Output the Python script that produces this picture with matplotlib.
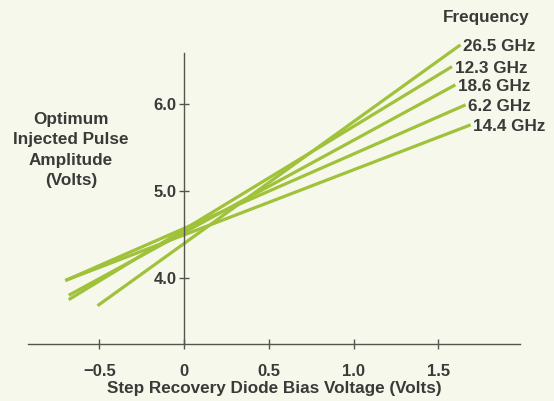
import matplotlib
matplotlib.use('Agg')
import matplotlib.pyplot as plt

# values (bias volts -> pulse amplitude volts)
freq_labels = ['26.5 GHz', '12.3 GHz', '18.6 GHz', '6.2 GHz', '14.4 GHz']
x_start = [-0.51, -0.68, -0.68, -0.70, -0.70]
y_start = [3.68, 3.75, 3.80, 3.97, 3.97]
x_end = [1.63, 1.58, 1.60, 1.66, 1.69]
y_end = [6.68, 6.43, 6.22, 5.99, 5.76]

xticks = [-0.5, 0, 0.5, 1.0, 1.5]
xtick_labels = ['\u22120.5', '0', '0.5', '1.0', '1.5']
yticks = [4.0, 5.0, 6.0]
ytick_labels = ['4.0', '5.0', '6.0']

bg = '#f6f8ec'
line_col = '#a0c23a'
txt = '#3a3a38'
axis_col = '#55554f'

plt.rcParams['font.family'] = ['Liberation Sans', 'DejaVu Sans']
plt.rcParams['font.weight'] = 'bold'

W, H = 554, 401
fig = plt.figure(figsize=(W / 100, H / 100), dpi=100, facecolor=bg)
ax = fig.add_axes([28 / W, 1 - 344 / H, (520 - 28) / W, (344 - 53) / H])
ax.set_facecolor(bg)

ax.set_xlim(-0.920, 1.981)
ax.set_ylim(3.24, 6.586)

for xs, ys, xe, ye, lab in zip(x_start, y_start, x_end, y_end, freq_labels):
    ax.plot([xs, xe], [ys, ye], color=line_col, lw=2.3, solid_capstyle='butt', clip_on=False)
    ax.annotate(lab, (xe, ye), xytext=(2, -1.5), textcoords='offset points',
                ha='left', va='center', fontsize=12.3, color=txt, annotation_clip=False)

ax.text(1.525, 6.99, 'Frequency', ha='left', va='center', fontsize=12.3, color=txt, clip_on=False)

ax.spines['top'].set_visible(False)
ax.spines['right'].set_visible(False)
ax.spines['left'].set_position(('data', 0))
for s in ['left', 'bottom']:
    ax.spines[s].set_color(axis_col)
    ax.spines[s].set_linewidth(1.0)

ax.set_xticks(xticks)
ax.set_xticklabels(xtick_labels)
ax.set_yticks(yticks)
ax.set_yticklabels(ytick_labels)
ax.tick_params(direction='inout', length=7, width=1.0, color=axis_col,
               labelcolor=txt, labelsize=12)
ax.tick_params(axis='x', pad=11)
ax.tick_params(axis='y', pad=2)

fig.text(71 / W, 1 - 150 / H, 'Optimum\nInjected Pulse\nAmplitude\n(Volts)',
         ha='center', va='center', fontsize=12.3, color=txt, linespacing=1.45)
fig.text(274 / W, 1 - 389 / H, 'Step Recovery Diode Bias Voltage (Volts)',
         ha='center', va='center', fontsize=12.3, color=txt)

fig.savefig('out.png', dpi=100, facecolor=bg)
